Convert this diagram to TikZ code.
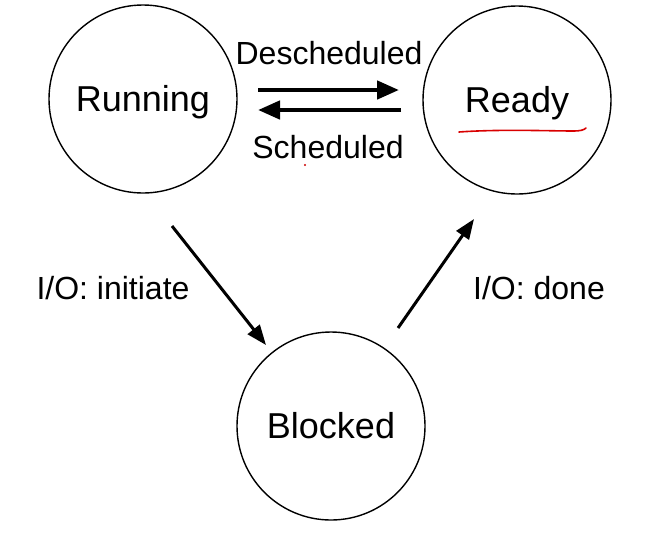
\documentclass[tikz,border=0pt]{standalone}
\usepackage{fontspec}
\setmainfont{Liberation Sans}
\usetikzlibrary{arrows.meta,calc}
\begin{document}
\begin{tikzpicture}[x=1pt,y=-1pt,
  state/.style={draw,circle,line width=1.4pt,minimum size=188pt,inner sep=0pt,text height=25.8pt,text depth=0pt,font=\fontsize{36}{40}\selectfont},
  lbl/.style={font=\fontsize{32}{36}\selectfont,inner sep=0pt},
  harr/.style={line width=4.5pt,-{Triangle[length=22pt,width=18pt]}},
  darr/.style={line width=3pt,-{Triangle[length=20pt,width=15pt]}}]
\useasboundingbox[fill=white] (0,0) rectangle (660,542);
\node[state] (run) at (143,99) {Running};
\node[state] (rdy) at (517,100) {Ready};
\node[state] (blk) at (331,426) {Blocked};
\draw[harr] ($(run.center)+(115,-9)$) -- ($(rdy.center)+(-118,-10)$);
\draw[harr] ($(rdy.center)+(-116,10)$) -- ($(run.center)+(115,11)$);
\node[lbl] (desch) at (329,53) {Descheduled};
\node[lbl] (sch) at (328,147) {Scheduled};
\draw[darr] ($(run.center)+(29,127)$) -- ($(blk.center)+(-65,-81)$);
\draw[darr] ($(blk.center)+(67,-98)$) -- ($(rdy.center)+(-43,119)$);
\node[lbl] (ioi) at (113,288) {I/O: initiate};
\node[lbl] (iod) at (539,288) {I/O: done};
\draw[red!85!black,line width=1.6pt,line cap=round] (459,132) .. controls (500,129) and (550,131) .. (574,131) .. controls (580,131) and (584,130) .. (586,128);
\fill[red!80!black] (305,165) circle (1.1);
\end{tikzpicture}
\end{document}
